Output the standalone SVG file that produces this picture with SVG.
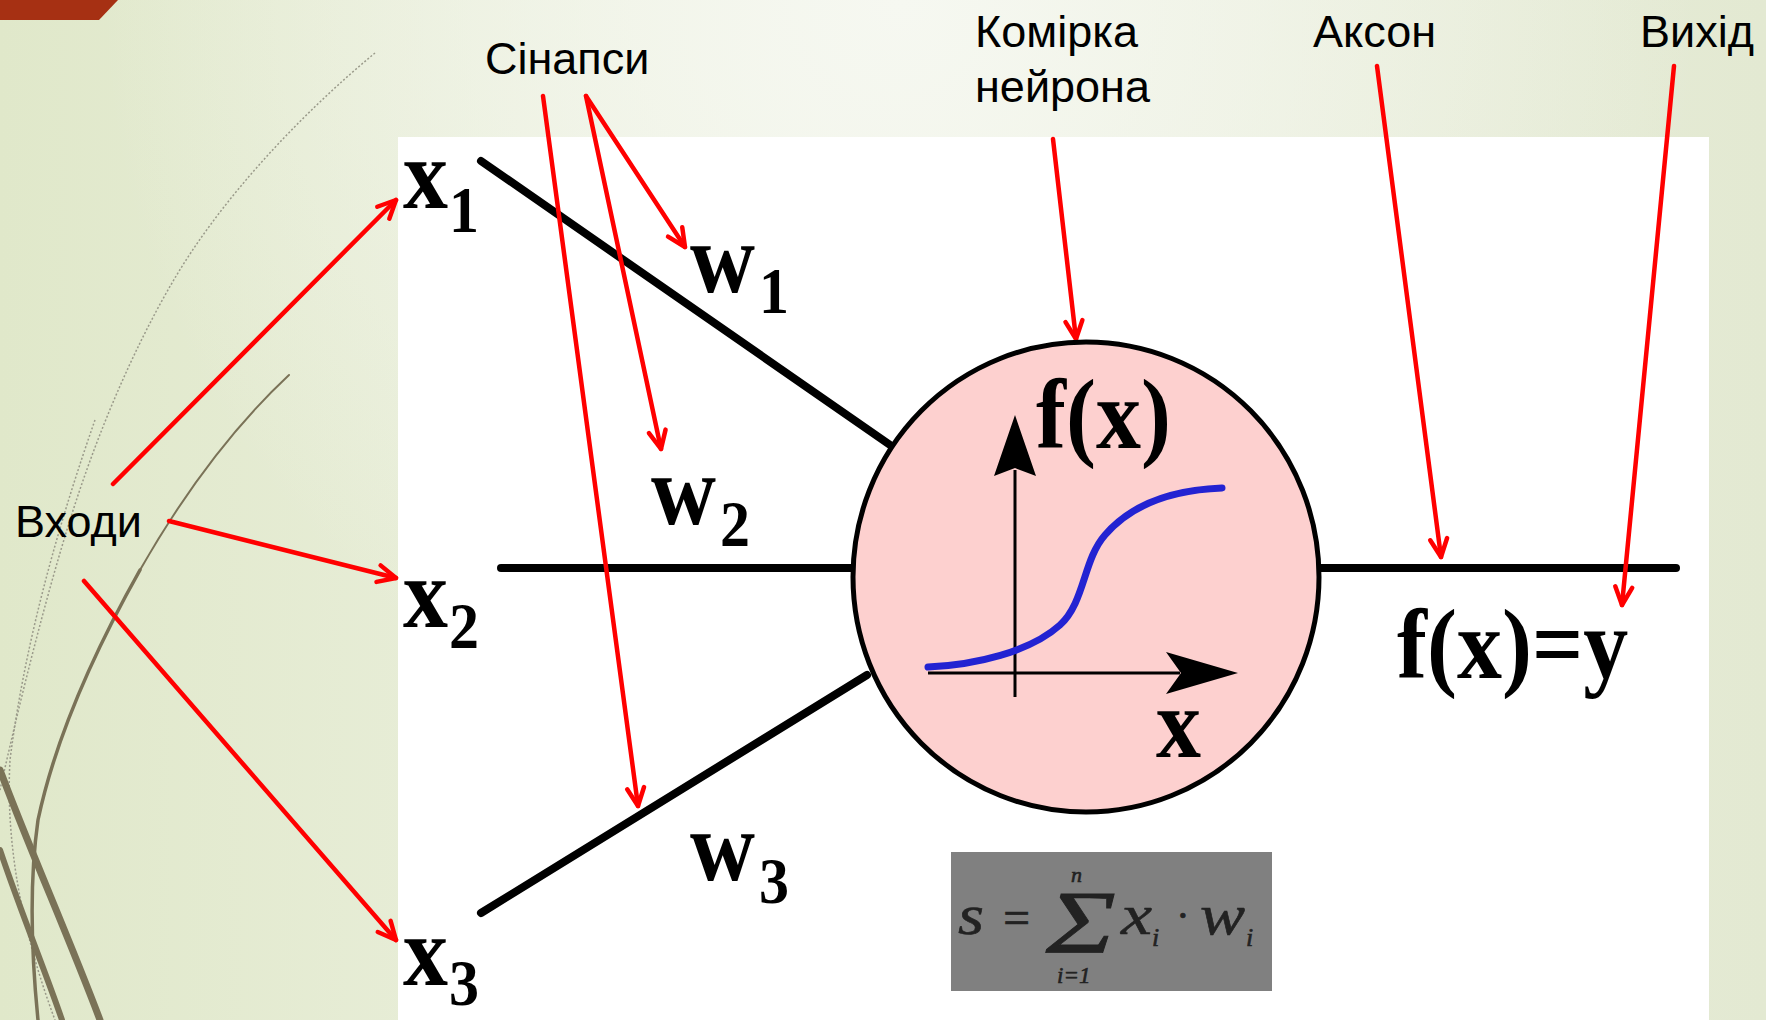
<svg xmlns="http://www.w3.org/2000/svg" width="1766" height="1020" viewBox="0 0 1766 1020">
  <defs>
    <linearGradient id="bg" x1="0" y1="0" x2="1" y2="0">
      <stop offset="0" stop-color="#e0e8ca"/>
      <stop offset="0.45" stop-color="#edf1e1"/>
      <stop offset="1" stop-color="#e3e9d2"/>
    </linearGradient>
    <radialGradient id="glow" cx="900" cy="0" r="800" gradientUnits="userSpaceOnUse">
      <stop offset="0" stop-color="#f6f8f1" stop-opacity="1"/>
      <stop offset="1" stop-color="#f6f8f1" stop-opacity="0"/>
    </radialGradient>
    <marker id="ah" viewBox="-22 -12 26 24" refX="0" refY="0" markerWidth="26" markerHeight="24" markerUnits="userSpaceOnUse" orient="auto">
      <path d="M-18,-8.5 L0,0 L-18,8.5" fill="none" stroke="#ff0000" stroke-width="4.5" stroke-linecap="round" stroke-linejoin="round"/>
    </marker>
    <style>
      .lbl { font-family: "Liberation Sans", Arial, sans-serif; font-size: 45px; fill: #000; }
      .bold { font-family: "Liberation Serif", "Times New Roman", serif; font-weight: bold; fill: #000; }
      .big { font-size: 90px; }
      .sub { font-size: 60px; }
      .red { stroke: #ff0000; stroke-width: 4.5; fill: none; stroke-linecap: round; marker-end: url(#ah); }
      .wire { stroke: #000; stroke-width: 8; stroke-linecap: round; fill: none; }
      .math { font-family: "Liberation Serif", "Times New Roman", serif; font-style: italic; fill: #222222; stroke: #222222; stroke-width: 0.6; }
      .olive { fill: none; stroke: #7a7257; stroke-linecap: round; }
      .dots { fill: none; stroke: #9a9a8a; stroke-width: 1.5; stroke-dasharray: 2 2; }
    </style>
  </defs>

  <!-- background -->
  <rect x="0" y="0" width="1766" height="1020" fill="url(#bg)"/>
  <rect x="0" y="0" width="1766" height="1020" fill="url(#glow)"/>
  <polygon points="0,0 118,0 99,20 0,20" fill="#a63013"/>

  <!-- decorative wisps -->
  <path class="dots" d="M375,53 C300,115 220,200 172,283 C130,355 95,440 70,520 C45,600 20,700 0,790"/>
  <path class="dots" d="M95,420 C60,520 25,640 10,760 C5,850 25,940 55,1020"/>
  <path class="olive" stroke-width="2" d="M289,375 C230,430 180,500 140,570"/>
  <path class="olive" stroke-width="3.5" d="M140,570 C95,650 55,740 38,820 C28,890 32,960 38,1020"/>
  <path class="olive" stroke-width="7" d="M0,770 C30,850 70,940 100,1020"/>
  <path class="olive" stroke-width="6" d="M0,850 C20,910 45,970 62,1020"/>

  <!-- white panel -->
  <rect x="398" y="137" width="1311" height="883" fill="#ffffff"/>

  <!-- wires (connectors) -->
  <g id="connectors">
    <line class="wire" x1="481" y1="161" x2="893" y2="447"/>
    <line class="wire" x1="501" y1="568" x2="856" y2="568" stroke-linecap="butt"/>
    <line class="wire" x1="481" y1="913" x2="867" y2="675"/>
    <line class="wire" x1="1318" y1="568" x2="1676" y2="568" stroke-linecap="butt"/>

    <path class="red" d="M113,484 L396,200"/>
    <path class="red" d="M169,521 L396,578"/>
    <path class="red" d="M84,581 L396,940"/>
    <path class="red" d="M586,96 L685,247"/>
    <path class="red" d="M586,96 L661,449"/>
    <path class="red" d="M543,96 L638,806"/>
    <path class="red" d="M1053,139 L1076,339"/>
    <path class="red" d="M1377,66 L1441,557"/>
    <path class="red" d="M1674,66 L1622,605"/>
  </g>

  <!-- neuron cell -->
  <g id="neuron">
    <ellipse cx="1086" cy="577" rx="233" ry="235" fill="#fdd0cf" stroke="#000" stroke-width="5"/>
    <line x1="1015" y1="470" x2="1015" y2="697" stroke="#000" stroke-width="3"/>
    <polygon points="1015,415 1036,476 1015,468 994,476" fill="#000"/>
    <line x1="928" y1="673" x2="1180" y2="673" stroke="#000" stroke-width="3"/>
    <polygon points="1238,673 1166,652 1181,673 1166,694" fill="#000"/>
    <path d="M928,667 C975,665 1030,652 1060,625 C1085,602 1083,560 1105,535 C1130,506 1170,490 1222,488" fill="none" stroke="#2323d2" stroke-width="7" stroke-linecap="round"/>
    <text class="bold big" transform="translate(1036,448) scale(1,1.1)">f(x)</text>
    <text class="bold big" transform="translate(1156,757) scale(1,1.1)">x</text>
  </g>

  <!-- inputs -->
  <g id="x1"><text class="bold" transform="translate(403,208) scale(1,1.1)"><tspan class="big" x="0" y="0">x</tspan><tspan class="sub" x="46" y="22">1</tspan></text></g>
  <g id="x2"><text class="bold" transform="translate(403,627) scale(1,1.1)"><tspan class="big" x="0" y="0">x</tspan><tspan class="sub" x="46" y="19">2</tspan></text></g>
  <g id="x3"><text class="bold" transform="translate(403,985) scale(1,1.1)"><tspan class="big" x="0" y="0">x</tspan><tspan class="sub" x="46" y="18">3</tspan></text></g>

  <!-- weights -->
  <g id="w1"><text class="bold" transform="translate(690,292) scale(1,1.1)"><tspan class="big" x="0" y="0">w</tspan><tspan class="sub" x="69" y="19">1</tspan></text></g>
  <g id="w2"><text class="bold" transform="translate(651,524) scale(1,1.1)"><tspan class="big" x="0" y="0">w</tspan><tspan class="sub" x="69" y="20">2</tspan></text></g>
  <g id="w3"><text class="bold" transform="translate(690,880) scale(1,1.1)"><tspan class="big" x="0" y="0">w</tspan><tspan class="sub" x="69" y="21">3</tspan></text></g>

  <!-- output -->
  <g id="output"><text class="bold big" transform="translate(1397,678) scale(1,1.1)">f(x)=y</text></g>

  <!-- formula -->
  <g id="formula">
    <rect x="951" y="852" width="321" height="139" fill="#808080"/>
    <text class="math" x="958" y="934" font-size="58" textLength="26" lengthAdjust="spacingAndGlyphs">s</text>
    <text class="math" x="1000" y="934" font-size="48" font-style="normal">=</text>
    <text class="math" font-style="normal" font-size="68" stroke-width="0" transform="translate(1046,952) scale(1,1.32)" textLength="70" lengthAdjust="spacingAndGlyphs">Σ</text>
    <text class="math" x="1071" y="882" font-size="22">n</text>
    <text class="math" x="1057" y="983" font-size="23">i=1</text>
    <text class="math" x="1121" y="934" font-size="58" textLength="31" lengthAdjust="spacingAndGlyphs">x</text>
    <text class="math" x="1152" y="946" font-size="26">i</text>
    <text class="math" x="1177" y="930" font-size="42" font-style="normal">·</text>
    <text class="math" x="1200" y="934" font-size="58" textLength="45" lengthAdjust="spacingAndGlyphs">w</text>
    <text class="math" x="1246" y="946" font-size="26">i</text>
  </g>

  <!-- labels -->
  <g id="lbl-inputs"><text class="lbl" x="15" y="537">Входи</text></g>
  <g id="lbl-synapses"><text class="lbl" x="485" y="74">Сінапси</text></g>
  <g id="lbl-cell"><text class="lbl" x="975" y="47">Комірка</text><text class="lbl" x="975" y="102">нейрона</text></g>
  <g id="lbl-axon"><text class="lbl" x="1313" y="47">Аксон</text></g>
  <g id="lbl-out"><text class="lbl" x="1640" y="47">Вихід</text></g>
</svg>
